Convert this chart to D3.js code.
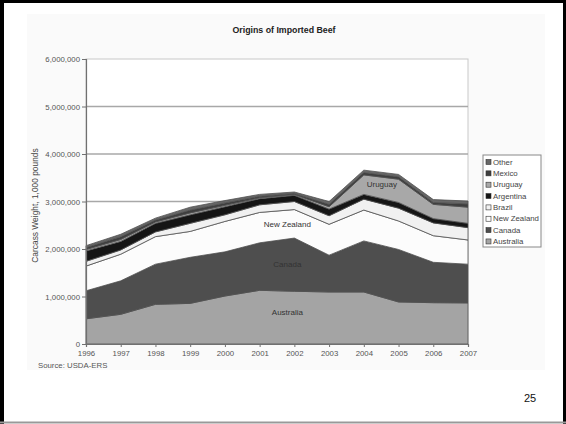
<!DOCTYPE html>
<html>
<head>
<meta charset="utf-8">
<script src="https://cdn.jsdelivr.net/npm/d3@7"></script>
<style>
  body { margin: 0; background: #fff; }
  svg text { font-family: "Liberation Sans", Arial, sans-serif; }
</style>
</head>
<body>
<div id="chart"></div>
<script>
// Origins of imported beef, carcass weight in 1,000 pounds
const years = ["1996", "1997", "1998", "1999", "2000", "2001", "2002", "2003", "2004", "2005", "2006", "2007"];
const australia = [530000, 625000, 835000, 855000, 1010000, 1130000, 1110000, 1095000, 1095000, 885000, 870000, 865000];
const canada = [590000, 705000, 845000, 970000, 930000, 1000000, 1120000, 775000, 1075000, 1105000, 850000, 815000];
const newZealand = [520000, 560000, 580000, 545000, 640000, 640000, 600000, 650000, 650000, 600000, 560000, 510000];
const brazil = [100000, 90000, 100000, 170000, 140000, 160000, 170000, 180000, 230000, 270000, 270000, 260000];
const argentina = [220000, 180000, 180000, 180000, 170000, 130000, 130000, 140000, 100000, 120000, 90000, 90000];
const uruguay = [30000, 40000, 30000, 40000, 30000, 20000, 20000, 50000, 410000, 490000, 300000, 340000];
const mexico = [40000, 60000, 40000, 60000, 50000, 30000, 20000, 50000, 50000, 50000, 40000, 70000];
const other = [40000, 50000, 40000, 60000, 50000, 40000, 30000, 60000, 50000, 50000, 60000, 60000];

const seriesNames = ["Australia", "Canada", "New Zealand", "Brazil", "Argentina", "Uruguay", "Mexico", "Other"];
const seriesValues = [australia, canada, newZealand, brazil, argentina, uruguay, mexico, other];
const yTicks = [0, 1000000, 2000000, 3000000, 4000000, 5000000, 6000000];

const fills = {
  "Australia": "#a4a4a4",
  "Canada": "#4e4e4e",
  "New Zealand": "#fcfcfc",
  "Brazil": "#f1f1f1",
  "Argentina": "#151515",
  "Uruguay": "#a8a8a8",
  "Mexico": "#3e3e3e",
  "Other": "#676767"
};

const width = 566, height = 424;
const margin = { left: 86, right: 98, top: 59, bottom: 80 };

const svg = d3.select("#chart").append("svg")
  .attr("width", width)
  .attr("height", height);

// faint chart background
svg.append("rect").attr("x", 27).attr("y", 14).attr("width", 518).attr("height", 356).attr("fill", "#fafafa");

const table = years.map((y, i) => {
  const row = { year: y };
  seriesNames.forEach((n, j) => { row[n] = seriesValues[j][i]; });
  return row;
});

const stack = d3.stack().keys(seriesNames);
const layers = stack(table);

const x = d3.scalePoint()
  .domain(years)
  .range([margin.left, width - margin.right]);

const y = d3.scaleLinear()
  .domain([0, 6000000])
  .range([height - margin.bottom, margin.top]);

// plot area
svg.append("rect")
  .attr("x", margin.left).attr("y", margin.top)
  .attr("width", x.range()[1] - margin.left)
  .attr("height", y(0) - margin.top)
  .attr("fill", "#fff")
  .attr("stroke", "#c8c8c8")
  .attr("stroke-width", 1);

// gridlines
svg.append("g")
  .selectAll("line")
  .data(yTicks.filter(d => d > 0 && d < 6000000))
  .join("line")
  .attr("x1", margin.left).attr("x2", x.range()[1])
  .attr("y1", d => y(d)).attr("y2", d => y(d))
  .attr("stroke", "#a8a8a8")
  .attr("stroke-width", 1.5);

const area = d3.area()
  .x(d => x(d.data.year))
  .y0(d => y(d[0]))
  .y1(d => y(d[1]));

svg.append("g")
  .selectAll("path")
  .data(layers)
  .join("path")
  .attr("d", area)
  .attr("fill", d => fills[d.key])
  .attr("stroke", "#505050")
  .attr("stroke-width", 0.8)
  .attr("stroke-linejoin", "round");

// axes
const yAxis = d3.axisLeft(y)
  .tickValues(yTicks)
  .tickFormat(d3.format(","))
  .tickSize(4)
  .tickPadding(2);

const gy = svg.append("g")
  .attr("transform", `translate(${margin.left},0)`)
  .call(yAxis);

const xAxis = d3.axisBottom(x)
  .tickSize(3)
  .tickPadding(3);

const gx = svg.append("g")
  .attr("transform", `translate(0,${y(0)})`)
  .call(xAxis);

[gx, gy].forEach(g => {
  g.select(".domain").attr("stroke", "#707070").attr("stroke-width", 1.2);
  g.selectAll(".tick line").attr("stroke", "#707070");
  g.selectAll("text")
    .attr("font-size", 7.8)
    .attr("fill", "#555")
    .attr("font-family", "Liberation Sans, Arial, sans-serif");
});

// in-chart labels
const areaLabels = [
  { text: "Australia", year: "2002", value: 660000 },
  { text: "Canada", year: "2002", value: 1680000 },
  { text: "New Zealand", year: "2002", value: 2520000 },
  { text: "Uruguay", year: "2004", value: 3360000 }
];

svg.append("g")
  .selectAll("text")
  .data(areaLabels)
  .join("text")
  .attr("x", d => x(d.year) + (d.year === "2004" ? 18 : -7))
  .attr("y", d => y(d.value))
  .attr("dy", "0.35em")
  .attr("text-anchor", "middle")
  .attr("font-size", 8)
  .attr("fill", "#333")
  .text(d => d.text);

// title
svg.append("text")
  .attr("x", 284).attr("y", 33)
  .attr("text-anchor", "middle")
  .attr("font-size", 8.8)
  .attr("font-weight", "bold")
  .attr("fill", "#222")
  .text("Origins of Imported Beef");

// y title
svg.append("text")
  .attr("transform", `translate(38,${(y(0) + y(6000000)) / 2 + 4}) rotate(-90)`)
  .attr("text-anchor", "middle")
  .attr("font-size", 8.4)
  .attr("fill", "#444")
  .text("Carcass Weight, 1,000 pounds");

// source
svg.append("text")
  .attr("x", 38).attr("y", 368)
  .attr("font-size", 7.8)
  .attr("fill", "#555")
  .text("Source:  USDA-ERS");

// legend
const legend = svg.append("g").attr("transform", "translate(483,155)");
legend.append("rect")
  .attr("width", 58).attr("height", 92)
  .attr("fill", "#fff")
  .attr("stroke", "#888")
  .attr("stroke-width", 1);

const legendItems = seriesNames.slice().reverse();
const li = legend.selectAll("g.item")
  .data(legendItems)
  .join("g")
  .attr("class", "item")
  .attr("transform", (d, i) => `translate(3,${7 + i * 11.35})`);

li.append("rect")
  .attr("x", 0).attr("y", -2.5)
  .attr("width", 5).attr("height", 5)
  .attr("fill", d => fills[d])
  .attr("stroke", "#333")
  .attr("stroke-width", 0.6);

li.append("text")
  .attr("x", 7).attr("y", 0)
  .attr("dy", "0.35em")
  .attr("font-size", 7.8)
  .attr("fill", "#444")
  .text(d => d);

// page number
svg.append("text")
  .attr("x", 530).attr("y", 402)
  .attr("text-anchor", "middle")
  .attr("font-size", 11)
  .attr("fill", "#111")
  .text("25");

// slide border
svg.append("line").attr("x1", 2).attr("x2", 2).attr("y1", 0).attr("y2", height).attr("stroke", "#000").attr("stroke-width", 4);
svg.append("line").attr("x1", 0).attr("x2", width).attr("y1", 1.5).attr("y2", 1.5).attr("stroke", "#000").attr("stroke-width", 3);
svg.append("line").attr("x1", width - 1.5).attr("x2", width - 1.5).attr("y1", 0).attr("y2", height).attr("stroke", "#000").attr("stroke-width", 3);
svg.append("line").attr("x1", 0).attr("x2", width).attr("y1", height - 1.5).attr("y2", height - 1.5).attr("stroke", "#999").attr("stroke-width", 2);
</script>
</body>
</html>
